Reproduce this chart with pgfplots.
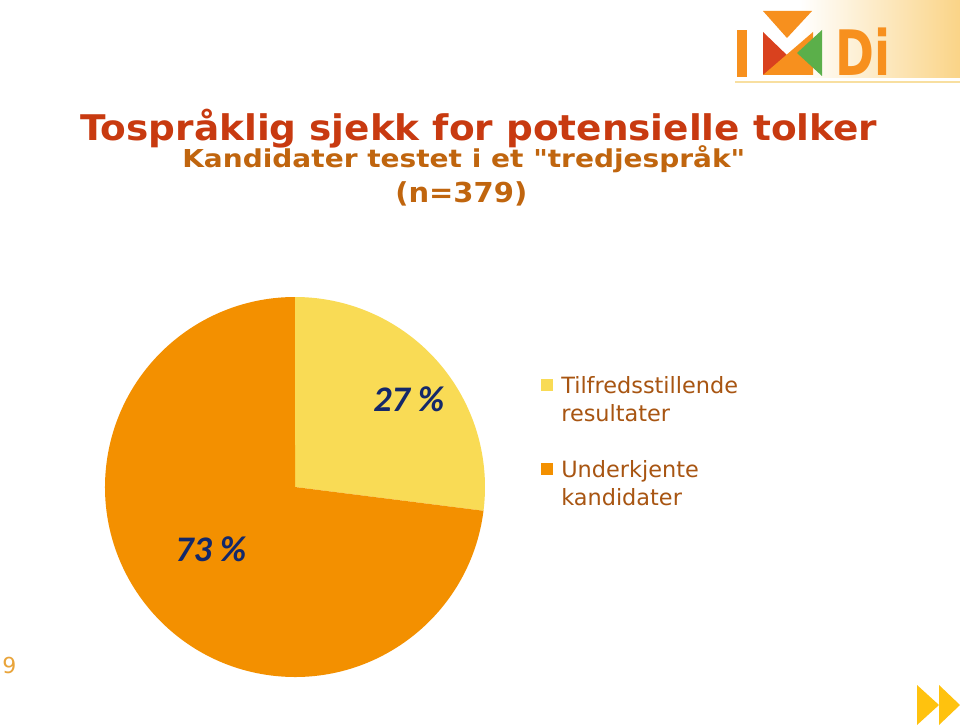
\documentclass[border=0pt]{standalone}
\usepackage{pgfplots}
\pgfplotsset{compat=1.18}
\usepackage{pgfplotstable}
\usepackage{graphicx}
\usepackage{fontspec}
\setmainfont{DejaVu Sans}[Ligatures=TeXOff]
\newfontfamily\carlito{Carlito}
\definecolor{titlered}{HTML}{C83A10}
\definecolor{subbrown}{HTML}{C0650E}
\definecolor{legbrown}{HTML}{A85512}
\definecolor{pieyellow}{HTML}{F9DB55}
\definecolor{pieorange}{HTML}{F39000}
\definecolor{navy}{HTML}{14286A}
\definecolor{logoor}{HTML}{F7901E}
\definecolor{logored}{HTML}{D9411E}
\definecolor{logogreen}{HTML}{5BAF4A}
\definecolor{arrowc}{HTML}{FFC20E}
\definecolor{pagenum}{HTML}{E9A43A}
\definecolor{gradc}{HTML}{FAD487}
\definecolor{lineyel}{HTML}{F8DFA0}
\pgfplotstableread{
name value
Tilfredsstillende 27
Underkjente 73
}\piedata
\begin{document}%
\pgfplotstablegetelem{0}{value}\of\piedata\let\vA\pgfplotsretval%
\pgfplotstablegetelem{1}{value}\of\piedata\let\vB\pgfplotsretval%
\pgfmathsetmacro\fA{\vA/(\vA+\vB)}%
\pgfmathsetmacro\fB{\vB/(\vA+\vB)}%
\pgfmathsetmacro\angA{90-360*\fA}%
\pgfmathsetmacro\angB{\angA-360*\fB}%
\begin{tikzpicture}
\begin{axis}[x=0.75pt,y=0.75pt,xmin=0,xmax=960,ymin=0,ymax=726,
  hide axis,scale only axis,clip=false,anchor=south west,at={(0,0)}]
\coordinate (SW) at (axis cs:0,0);
\coordinate (NE) at (axis cs:960,726);
\fill[white] (axis cs:0,0) rectangle (axis cs:960,726);
% logo background
\shade[left color=white,right color=gradc] (axis cs:800,648) rectangle (axis cs:960,726);
\draw[line width=1.5pt, color=lineyel] (axis cs:735,644) -- (axis cs:960,644);
\fill[logoor] (axis cs:737,649) rectangle (axis cs:747,696);
\fill[logoor] (axis cs:763,715) -- (axis cs:812,715) -- (axis cs:787,688) -- cycle;
\fill[logored] (axis cs:763,694) -- (axis cs:763,651) -- (axis cs:790,668) -- cycle;
\fill[logoor] (axis cs:763,651) -- (axis cs:813,651) -- (axis cs:813,694) -- cycle;
\fill[logogreen] (axis cs:822,696) -- (axis cs:822,650) -- (axis cs:797,673) -- cycle;
\node[anchor=south west,inner sep=0,text=logoor,font=\bfseries\fontsize{47pt}{50pt}\selectfont] at (axis cs:835,650) {\resizebox{41.25pt}{\height}{Di}};
% titles
\node[anchor=base west,inner sep=0,text=titlered,font=\bfseries\fontsize{26.5pt}{30pt}\selectfont] at (axis cs:80,585.5) {\resizebox{597.75pt}{\height}{Tospråklig sjekk for potensielle tolker}};
\node[anchor=base west,inner sep=0,text=subbrown,font=\bfseries\fontsize{18.5pt}{22pt}\selectfont] at (axis cs:182,558.5) {\resizebox{422.25pt}{\height}{Kandidater testet i et "tredjespråk"}};
\node[anchor=base west,inner sep=0,text=subbrown,font=\bfseries\fontsize{20.6pt}{24pt}\selectfont] at (axis cs:395,523.3) {\resizebox{99pt}{\height}{(n=379)}};
% pie
\fill[pieyellow] (axis cs:295,239) -- ++(90:142.5pt) arc[start angle=90,end angle=\angA,radius=142.5pt] -- cycle;
\fill[pieorange] (axis cs:295,239) -- ++(\angA:142.5pt) arc[start angle=\angA,end angle=\angB,radius=142.5pt] -- cycle;
\node[anchor=base west,inner sep=0,text=navy,font=\carlito\bfseries\itshape\fontsize{27pt}{30pt}\selectfont] at (axis cs:373,315) {\vA~\%};
\node[anchor=base west,inner sep=0,text=navy,font=\carlito\bfseries\itshape\fontsize{27pt}{30pt}\selectfont] at (axis cs:175,165) {\vB~\%};
% legend
\fill[pieyellow] (axis cs:541,335) rectangle (axis cs:553,347);
\fill[pieorange] (axis cs:541,251) rectangle (axis cs:553,263);
\begin{scope}[every node/.style={anchor=base west,inner sep=0,text=legbrown,font=\fontsize{16.8pt}{20pt}\selectfont}]
\node at (axis cs:561,333) {Tilfredsstillende};
\node at (axis cs:561,305) {resultater};
\node at (axis cs:561,249) {Underkjente};
\node at (axis cs:561,221) {kandidater};
\end{scope}
% page number and arrows
\node[anchor=base west,inner sep=0,text=pagenum,font=\fontsize{16.5pt}{20pt}\selectfont] at (axis cs:2,53) {9};
\fill[arrowc] (axis cs:917,41) -- (axis cs:917,1) -- (axis cs:939,21) -- cycle;
\fill[arrowc] (axis cs:939,41) -- (axis cs:939,1) -- (axis cs:960,21) -- cycle;
\end{axis}
\pgfresetboundingbox
\path[use as bounding box] (SW) rectangle (NE);
\end{tikzpicture}%
\end{document}
